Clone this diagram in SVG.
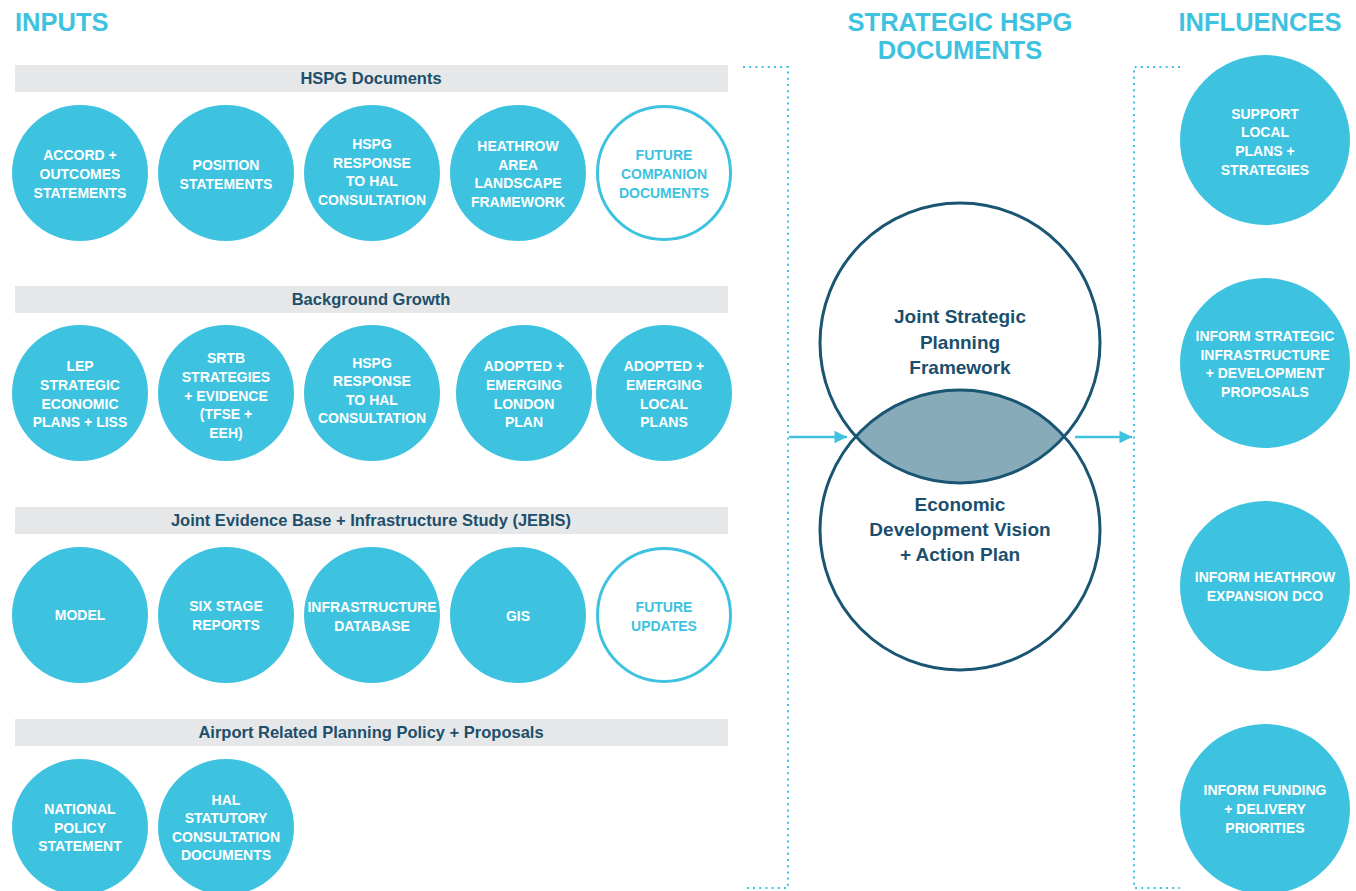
<svg xmlns="http://www.w3.org/2000/svg" width="1356" height="891" viewBox="0 0 1356 891">
<defs>
<style>
.h{font-family:"Liberation Sans",Arial,sans-serif;font-weight:bold;font-size:25.5px;fill:#3ec2e0}
.bar{fill:#e6e7e8}
.bt{font-family:"Liberation Sans",Arial,sans-serif;font-weight:bold;font-size:16.5px;fill:#1d4f6b;text-anchor:middle}
.c{fill:#3dc3df}
.co{fill:#fff;stroke:#3dc3df;stroke-width:3}
.t{font-family:"Liberation Sans",Arial,sans-serif;font-weight:bold;font-size:14px;fill:#fff;text-anchor:middle}
.to{font-family:"Liberation Sans",Arial,sans-serif;font-weight:bold;font-size:14px;fill:#3dc3df;text-anchor:middle}
.dot{fill:none;stroke:#3ec2e0;stroke-width:2;stroke-dasharray:2 4.2}
.arr{stroke:#3ec2e0;stroke-width:2.5;fill:none}
.v{fill:none;stroke:#1a5572;stroke-width:3}
.vt{font-family:"Liberation Sans",Arial,sans-serif;font-weight:bold;font-size:19px;fill:#1b4f6d;text-anchor:middle}
</style>
<marker id="ah" viewBox="0 0 10 10" refX="10" refY="5" markerWidth="7" markerHeight="5" markerUnits="strokeWidth" orient="auto">
<path d="M0,0 L10,5 L0,10 Z" fill="#3ec2e0"/>
</marker>
</defs>

<g id="headings">
<text class="h" x="15" y="31">INPUTS</text>
<text class="h" x="960" y="31" text-anchor="middle">STRATEGIC HSPG</text>
<text class="h" x="960" y="59" text-anchor="middle">DOCUMENTS</text>
<text class="h" x="1260" y="31" text-anchor="middle">INFLUENCES</text>
</g>

<g id="bars">
<rect class="bar" x="15" y="65" width="713" height="27"/>
<text class="bt" x="371" y="84">HSPG Documents</text>
<rect class="bar" x="15" y="286" width="713" height="27"/>
<text class="bt" x="371" y="305">Background Growth</text>
<rect class="bar" x="15" y="507" width="713" height="27"/>
<text class="bt" x="371" y="526">Joint Evidence Base + Infrastructure Study (JEBIS)</text>
<rect class="bar" x="15" y="719" width="713" height="27"/>
<text class="bt" x="371" y="738">Airport Related Planning Policy + Proposals</text>
</g>

<g id="connectors">
<path class="dot" d="M743 67 H788 V888 H743"/>
<path class="dot" d="M1180 67 H1134 V888 H1180"/>
<line class="arr" x1="789" y1="437" x2="847" y2="437" marker-end="url(#ah)"/>
<line class="arr" x1="1075" y1="437" x2="1132" y2="437" marker-end="url(#ah)"/>
</g>

<g id="n-accord"><circle class="c" cx="80" cy="173" r="68"/><text class="t" x="80"><tspan x="80" y="160">ACCORD +</tspan><tspan x="80" y="179">OUTCOMES</tspan><tspan x="80" y="198">STATEMENTS</tspan></text></g>
<g id="n-position"><circle class="c" cx="226" cy="173" r="68"/><text class="t"><tspan x="226" y="170">POSITION</tspan><tspan x="226" y="189">STATEMENTS</tspan></text></g>
<g id="n-hspg1"><circle class="c" cx="372" cy="173" r="68"/><text class="t"><tspan x="372" y="149">HSPG</tspan><tspan x="372" y="168">RESPONSE</tspan><tspan x="372" y="186">TO HAL</tspan><tspan x="372" y="205">CONSULTATION</tspan></text></g>
<g id="n-heathrow"><circle class="c" cx="518" cy="173" r="68"/><text class="t"><tspan x="518" y="151">HEATHROW</tspan><tspan x="518" y="170">AREA</tspan><tspan x="518" y="188">LANDSCAPE</tspan><tspan x="518" y="207">FRAMEWORK</tspan></text></g>
<g id="n-future1"><circle class="co" cx="664" cy="173" r="66.5"/><text class="to"><tspan x="664" y="160">FUTURE</tspan><tspan x="664" y="179">COMPANION</tspan><tspan x="664" y="198">DOCUMENTS</tspan></text></g>

<g id="n-lep"><circle class="c" cx="80" cy="393" r="68"/><text class="t"><tspan x="80" y="371">LEP</tspan><tspan x="80" y="390">STRATEGIC</tspan><tspan x="80" y="409">ECONOMIC</tspan><tspan x="80" y="427">PLANS + LISS</tspan></text></g>
<g id="n-srtb"><circle class="c" cx="226" cy="393" r="68"/><text class="t"><tspan x="226" y="363">SRTB</tspan><tspan x="226" y="382">STRATEGIES</tspan><tspan x="226" y="401">+ EVIDENCE</tspan><tspan x="226" y="419">(TFSE +</tspan><tspan x="226" y="438">EEH)</tspan></text></g>
<g id="n-hspg2"><circle class="c" cx="372" cy="393" r="68"/><text class="t"><tspan x="372" y="368">HSPG</tspan><tspan x="372" y="386">RESPONSE</tspan><tspan x="372" y="405">TO HAL</tspan><tspan x="372" y="423">CONSULTATION</tspan></text></g>
<g id="n-london"><circle class="c" cx="524" cy="393" r="68"/><text class="t"><tspan x="524" y="371">ADOPTED +</tspan><tspan x="524" y="390">EMERGING</tspan><tspan x="524" y="409">LONDON</tspan><tspan x="524" y="427">PLAN</tspan></text></g>
<g id="n-local"><circle class="c" cx="664" cy="393" r="68"/><text class="t"><tspan x="664" y="371">ADOPTED +</tspan><tspan x="664" y="390">EMERGING</tspan><tspan x="664" y="409">LOCAL</tspan><tspan x="664" y="427">PLANS</tspan></text></g>

<g id="n-model"><circle class="c" cx="80" cy="615" r="68"/><text class="t" x="80" y="620">MODEL</text></g>
<g id="n-six"><circle class="c" cx="226" cy="615" r="68"/><text class="t"><tspan x="226" y="611">SIX STAGE</tspan><tspan x="226" y="630">REPORTS</tspan></text></g>
<g id="n-infra"><circle class="c" cx="372" cy="615" r="68"/><text class="t"><tspan x="372" y="612">INFRASTRUCTURE</tspan><tspan x="372" y="631">DATABASE</tspan></text></g>
<g id="n-gis"><circle class="c" cx="518" cy="615" r="68"/><text class="t" x="518" y="621">GIS</text></g>
<g id="n-future2"><circle class="co" cx="664" cy="615" r="66.5"/><text class="to"><tspan x="664" y="612">FUTURE</tspan><tspan x="664" y="631">UPDATES</tspan></text></g>

<g id="n-nps"><circle class="c" cx="80" cy="827" r="68"/><text class="t"><tspan x="80" y="814">NATIONAL</tspan><tspan x="80" y="833">POLICY</tspan><tspan x="80" y="851">STATEMENT</tspan></text></g>
<g id="n-hal"><circle class="c" cx="226" cy="827" r="68"/><text class="t"><tspan x="226" y="805">HAL</tspan><tspan x="226" y="823">STATUTORY</tspan><tspan x="226" y="842">CONSULTATION</tspan><tspan x="226" y="860">DOCUMENTS</tspan></text></g>

<g id="venn">
<path d="M856 436.5 A140 140 0 0 1 1064 436.5 A140 140 0 0 1 856 436.5 Z" fill="#87abb9"/>
<circle class="v" cx="960" cy="343" r="140"/>
<circle class="v" cx="960" cy="530" r="140"/>
<text class="vt"><tspan x="960" y="323">Joint Strategic</tspan><tspan x="960" y="349">Planning</tspan><tspan x="960" y="374">Framework</tspan></text>
<text class="vt"><tspan x="960" y="511">Economic</tspan><tspan x="960" y="536">Development Vision</tspan><tspan x="960" y="561">+ Action Plan</tspan></text>
</g>

<g id="n-support"><circle class="c" cx="1265" cy="140" r="85"/><text class="t"><tspan x="1265" y="119">SUPPORT</tspan><tspan x="1265" y="137">LOCAL</tspan><tspan x="1265" y="156">PLANS +</tspan><tspan x="1265" y="175">STRATEGIES</tspan></text></g>
<g id="n-inform1"><circle class="c" cx="1265" cy="363" r="85"/><text class="t"><tspan x="1265" y="341">INFORM STRATEGIC</tspan><tspan x="1265" y="360">INFRASTRUCTURE</tspan><tspan x="1265" y="378">+ DEVELOPMENT</tspan><tspan x="1265" y="397">PROPOSALS</tspan></text></g>
<g id="n-inform2"><circle class="c" cx="1265" cy="586" r="85"/><text class="t"><tspan x="1265" y="582">INFORM HEATHROW</tspan><tspan x="1265" y="601">EXPANSION DCO</tspan></text></g>
<g id="n-inform3"><circle class="c" cx="1265" cy="809" r="85"/><text class="t"><tspan x="1265" y="795">INFORM FUNDING</tspan><tspan x="1265" y="814">+ DELIVERY</tspan><tspan x="1265" y="833">PRIORITIES</tspan></text></g>
</svg>
